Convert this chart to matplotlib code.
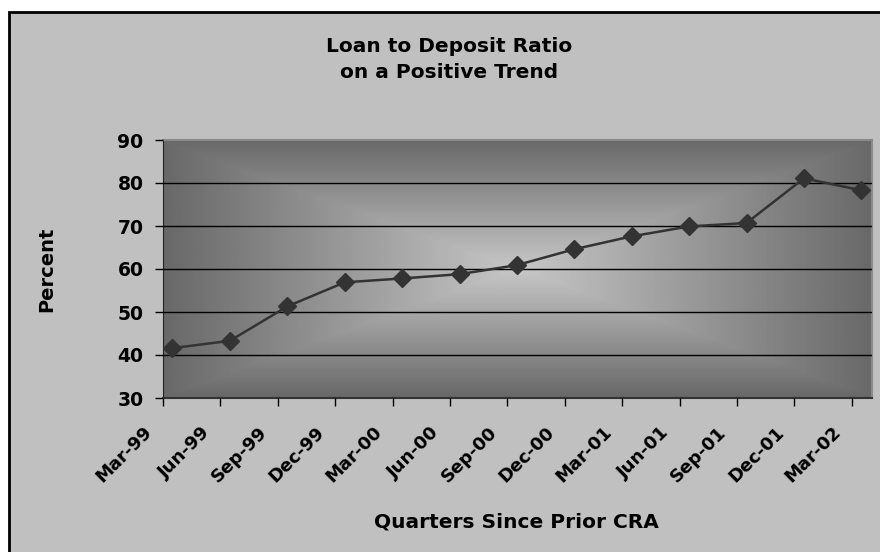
import numpy as np
import matplotlib
matplotlib.use("Agg")
import matplotlib.pyplot as plt
from matplotlib.patches import Rectangle
from matplotlib.transforms import ScaledTranslation

quarters = ["Mar-99", "Jun-99", "Sep-99", "Dec-99", "Mar-00", "Jun-00", "Sep-00",
            "Dec-00", "Mar-01", "Jun-01", "Sep-01", "Dec-01", "Mar-02"]
ratio = [41.6, 43.3, 51.3, 56.9, 57.8, 58.8, 60.9, 64.6, 67.6, 69.9, 70.7, 81.1, 78.3]

plt.rcParams['font.family'] = ['DejaVu Sans']
plt.rcParams['font.weight'] = 'bold'

W, H = 880, 552
fig = plt.figure(figsize=(W / 100, H / 100), dpi=100)
fig.patch.set_facecolor('white')

# gray chart area with a black border on top and left
fig.add_artist(Rectangle((9 / W, -0.1), 1.1, 1.1 - 12 / H, transform=fig.transFigure,
                         facecolor='#c0c0c0', edgecolor='black', lw=2, zorder=-5))

ax = fig.add_axes([163 / W, (H - 398) / H, (872 - 163) / W, (398 - 140) / H])

# rectangular "from center" gradient behind the plot
nx, ny = 400, 200
gx = np.abs(np.linspace(-1, 1, nx))
gy = np.abs(np.linspace(-1, 1, ny))
d = np.maximum(gx[None, :], gy[:, None])
shade = 0.78 - (0.78 - 0.41) * d
ax.imshow(shade, cmap='gray', vmin=0, vmax=1, extent=[0, 1, 0, 1],
          transform=ax.transAxes, aspect='auto', zorder=0, interpolation='bilinear')

x = np.arange(len(quarters)) + 0.165
ax.plot(x, ratio, color='#333333', lw=1.8, marker='D', ms=9,
        mfc='#333333', mec='#333333', zorder=3)

ax.set_xlim(0, 12.35)
ax.set_ylim(30, 90)
ax.set_yticks(range(30, 91, 10))
ax.set_xticks(np.arange(len(quarters)))
ax.set_xticklabels(quarters, rotation=45, ha='right')

ax.yaxis.grid(True, color='black', lw=1)
gl = ax.get_ygridlines()
gl[0].set_visible(False)
gl[-1].set_visible(False)
ax.set_axisbelow(False)

ax.tick_params(axis='y', direction='out', length=6, width=1, pad=8, labelsize=13.5)
ax.tick_params(axis='x', direction='out', length=6, width=1, pad=12, labelsize=13)

# nudge the slanted month labels a little to the left, like the original
shift = ScaledTranslation(-7 / 100, 0, fig.dpi_scale_trans)
for lbl in ax.get_xticklabels():
    lbl.set_transform(lbl.get_transform() + shift)

ax.spines['left'].set_color('#222222')
ax.spines['bottom'].set_color('#333333')
ax.spines['bottom'].set_linewidth(1.5)
for s in ['top', 'right']:
    ax.spines[s].set_color('#8a8a8a')
    ax.spines[s].set_linewidth(1.5)

fig.text(449 / W, 1 - 59.5 / H, "Loan to Deposit Ratio\non a Positive Trend",
         ha='center', va='center', fontsize=14.5, linespacing=1.4)
fig.text(47 / W, 1 - 269 / H, "Percent", rotation=90, ha='center', va='center', fontsize=14)
fig.text(516 / W, 1 - 521.5 / H, "Quarters Since Prior CRA", ha='center', va='center',
         fontsize=14.5)

fig.savefig("out.png", dpi=100)
